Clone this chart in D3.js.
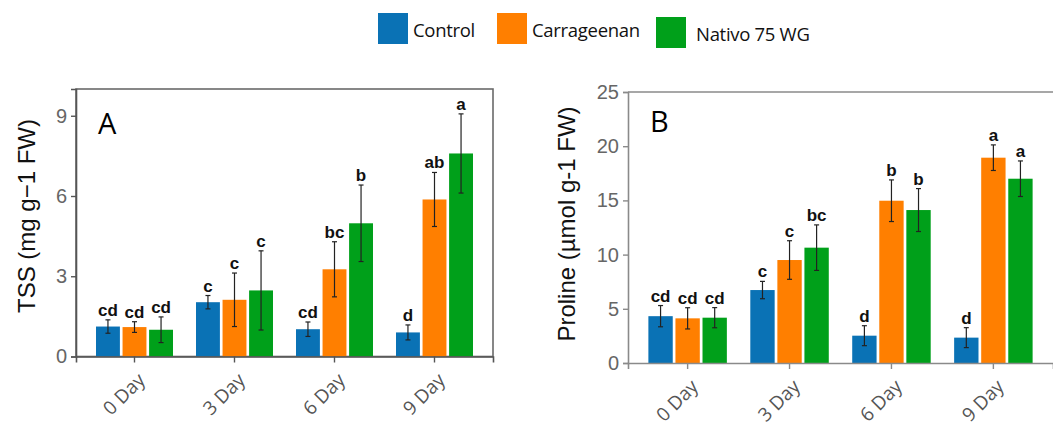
<!DOCTYPE html>
<html>
<head>
<meta charset="utf-8">
<script src="https://cdn.jsdelivr.net/npm/d3@7"></script>
<style>
  body { margin: 0; background: #fff; }
  svg { display: block; }
</style>
</head>
<body>
<svg id="chart" width="1053" height="427"></svg>
<script>
// data
var days    = ['0 Day', '3 Day', '6 Day', '9 Day'];
var series  = ['Control', 'Carrageenan', 'Nativo 75 WG'];
var colors  = ['#0a72b5', '#ff7f00', '#00a01a'];

// panel A: TSS
var tss_mean = [[1.12, 1.10, 1.00], [2.03, 2.12, 2.47], [1.02, 3.26, 4.98], [0.90, 5.87, 7.59]];
var tss_err  = [[0.25, 0.20, 0.48], [0.25, 1.00, 1.48], [0.27, 1.03, 1.43], [0.28, 1.01, 1.48]];
var tss_let  = [['cd', 'cd', 'cd'], ['c', 'c', 'c'], ['cd', 'bc', 'b'], ['d', 'ab', 'a']];
var tss_ticks = [0, 3, 6, 9];

// panel B: proline
var pro_mean = [[4.32, 4.12, 4.18], [6.73, 9.50, 10.64], [2.52, 14.97, 14.11], [2.34, 18.94, 17.00]];
var pro_err  = [[0.98, 0.98, 0.93], [0.80, 1.78, 2.10], [0.92, 1.92, 1.98], [0.92, 1.18, 1.64]];
var pro_let  = [['cd', 'cd', 'cd'], ['c', 'c', 'bc'], ['d', 'b', 'b'], ['d', 'a', 'a']];
var pro_ticks = [0, 5, 10, 15, 20, 25];

var svg = d3.select('#chart');

var bar_draw = (o) => {
  var g = svg.append('g');

  var x = d3.scaleBand()
    .domain(days)
    .range([o.left, o.right])
    .paddingInner(0.23)
    .paddingOuter(0.2);

  var xs = d3.scaleBand()
    .domain(d3.range(series.length))
    .range([0, x.bandwidth()])
    .paddingInner(0.1);

  var y = d3.scaleLinear()
    .domain(o.domain)
    .range([o.bottom, o.top]);

  // frame
  if (o.box) {
    g.append('rect')
      .attr('x', o.left).attr('y', o.top)
      .attr('width', o.right - o.left).attr('height', o.bottom - o.top)
      .attr('fill', 'none').attr('stroke', '#6a6a6a').attr('stroke-width', 1.6);
  } else {
    g.append('line')
      .attr('x1', o.left).attr('x2', o.right)
      .attr('y1', o.top).attr('y2', o.top)
      .attr('stroke', '#8a8a8a').attr('stroke-width', 1.6);
  }

  var rows = [];
  days.forEach((d, i) => series.forEach((s, j) => rows.push({
    day: d, k: j, v: o.mean[i][j], e: o.err[i][j], l: o.letters[i][j]
  })));

  g.selectAll('rect.bar')
    .data(rows)
    .enter()
    .append('rect')
    .attr('class', 'bar')
    .attr('x', (d) => x(d.day) + xs(d.k))
    .attr('width', xs.bandwidth())
    .attr('y', (d) => y(d.v))
    .attr('height', (d) => y(0) - y(d.v))
    .attr('fill', (d) => colors[d.k]);

  var eg = g.selectAll('g.err')
    .data(rows)
    .enter()
    .append('g')
    .attr('class', 'err')
    .attr('transform', (d) => `translate(${ x(d.day) + xs(d.k) + xs.bandwidth() / 2 }, 0)`);

  eg.append('line')
    .attr('y1', (d) => y(d.v - d.e)).attr('y2', (d) => y(d.v + d.e))
    .attr('stroke', '#222').attr('stroke-width', 1.2);

  eg.selectAll('line.cap')
    .data((d) => [d.v - d.e, d.v + d.e])
    .enter()
    .append('line')
    .attr('class', 'cap')
    .attr('x1', -2.5).attr('x2', 2.5)
    .attr('y1', (d) => y(d)).attr('y2', (d) => y(d))
    .attr('stroke', '#222').attr('stroke-width', 1.2);

  eg.append('text')
    .attr('y', (d) => y(d.v + d.e) - 4)
    .attr('text-anchor', 'middle')
    .attr('font-family', '"Liberation Sans Narrow", "Liberation Sans", Arial, sans-serif')
    .attr('font-weight', 'bold')
    .attr('font-size', 17)
    .attr('fill', '#111')
    .text((d) => d.l);

  // axes
  var ya = g.append('g')
    .attr('transform', `translate(${ o.left }, 0)`)
    .call(d3.axisLeft(y).tickValues(o.ticks).tickSize(5).tickPadding(4));

  var xa = g.append('g')
    .attr('transform', `translate(0, ${ o.bottom })`)
    .call(d3.axisBottom(x).tickSize(6).tickPadding(0));

  [ya, xa].forEach((a) => {
    a.select('.domain').attr('stroke', o.axis_color).attr('stroke-width', 1.6);
    a.selectAll('.tick line').attr('stroke', o.axis_color).attr('stroke-width', 1.4);
    a.selectAll('.tick text')
      .attr('fill', '#666')
      .attr('font-family', '"Liberation Sans", Arial, sans-serif')
      .attr('font-size', 20);
  });

  xa.selectAll('.tick text')
    .attr('font-family', '"Open Sans", sans-serif')
    .attr('font-size', 19)
    .attr('fill', '#555')
    .attr('text-anchor', 'end')
    .attr('y', 0)
    .attr('dy', '0.35em')
    .attr('transform', 'translate(7, 20) rotate(-45)');

  g.append('text')
    .attr('transform', `translate(${ o.title_x }, ${ o.title_y }) rotate(-90)`)
    .attr('text-anchor', 'middle')
    .attr('font-family', '"Liberation Sans", Arial, sans-serif')
    .attr('font-size', 24)
    .attr('fill', '#111')
    .text(o.title);

  g.append('text')
    .attr('x', o.left + o.tag_dx)
    .attr('y', o.top + o.tag_dy)
    .attr('font-family', '"Open Sans", sans-serif')
    .attr('font-size', 29)
    .attr('fill', '#000')
    .text(o.tag);

  return g;
};

bar_draw({
  left: 76, right: 493, top: 89, bottom: 356.5,
  domain: [0, 10], ticks: tss_ticks,
  mean: tss_mean, err: tss_err, letters: tss_let,
  box: true, axis_color: '#555',
  title: 'TSS (mg g\u22121 FW)', title_x: 35, title_y: 216,
  tag: 'A', tag_dx: 22, tag_dy: 45
});

bar_draw({
  left: 628, right: 1053, top: 92, bottom: 363,
  domain: [0, 25], ticks: pro_ticks,
  mean: pro_mean, err: pro_err, letters: pro_let,
  box: false, axis_color: '#8a8a8a',
  title: 'Proline (\u00b5mol g-1 FW)', title_x: 575, title_y: 224,
  tag: 'B', tag_dx: 22, tag_dy: 40
});

// legend
var legend_x = [378, 497, 656];
var legend_y = [13, 13, 17];
var lg = svg.append('g');

lg.selectAll('rect')
  .data(series)
  .enter()
  .append('rect')
  .attr('x', (d, i) => legend_x[i])
  .attr('y', (d, i) => legend_y[i])
  .attr('width', 30)
  .attr('height', 31)
  .attr('fill', (d, i) => colors[i]);

lg.selectAll('text')
  .data(series)
  .enter()
  .append('text')
  .attr('x', (d, i) => legend_x[i] + (i === 2 ? 40 : 35))
  .attr('y', (d, i) => legend_y[i] + 24)
  .attr('font-family', '"Open Sans", sans-serif')
  .attr('font-size', 18.5)
  .attr('letter-spacing', -0.3)
  .attr('fill', '#111')
  .text((d) => d);
</script>
</body>
</html>
